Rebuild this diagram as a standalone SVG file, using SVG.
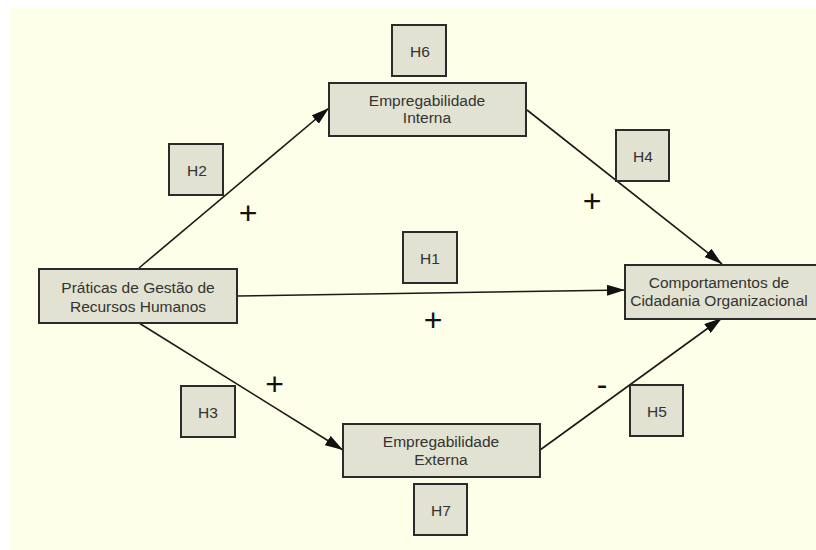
<svg xmlns="http://www.w3.org/2000/svg" width="816" height="550" viewBox="0 0 816 550">
<style>
.box{fill:#e1e2d1;stroke:#2b2b2b;stroke-width:2}
.t{font-family:"Liberation Sans",Arial,sans-serif;font-size:15.5px;fill:#333;text-anchor:middle}
.c{stroke:#1a1a1a;stroke-width:1.6;fill:none;marker-end:url(#ah)}
.s{font-family:"Liberation Sans",Arial,sans-serif;font-size:32px;fill:#111;text-anchor:middle}
</style>
<defs>
<marker id="ah" viewBox="0 0 18 11" refX="18" refY="5.5" markerWidth="18" markerHeight="11" markerUnits="userSpaceOnUse" orient="auto">
<path d="M0,0 L18,5.5 L0,11 Z" fill="#111"/>
</marker>
</defs>
<rect x="0" y="0" width="816" height="550" fill="#ffffff"/>
<rect x="9" y="7" width="807" height="543" fill="#fdffe8"/>
<g id="connectors">
<line class="c" x1="139" y1="268" x2="329" y2="108"/>
<line class="c" x1="527" y1="110" x2="722" y2="264"/>
<line class="c" x1="237" y1="296" x2="625" y2="290"/>
<line class="c" x1="139" y1="323" x2="343" y2="450"/>
<line class="c" x1="540" y1="450" x2="722" y2="318"/>
</g>
<g id="signs">
<text class="s" x="248" y="223.5">+</text>
<text class="s" x="592" y="211.5">+</text>
<text class="s" x="433" y="330.5">+</text>
<text class="s" x="274.5" y="395">+</text>
<text class="s" x="602" y="395">-</text>
</g>
<g id="praticas">
<rect class="box" x="39" y="269" width="198" height="54"/>
<text class="t" x="138" y="293">Práticas de Gestão de</text>
<text class="t" x="138" y="311.5">Recursos Humanos</text>
</g>
<g id="emp-interna">
<rect class="box" x="329" y="83" width="197" height="53"/>
<text class="t" x="427" y="106">Empregabilidade</text>
<text class="t" x="427" y="123">Interna</text>
</g>
<g id="emp-externa">
<rect class="box" x="343" y="424" width="197" height="53"/>
<text class="t" x="441" y="447">Empregabilidade</text>
<text class="t" x="441" y="465">Externa</text>
</g>
<g id="comportamentos">
<rect class="box" x="625" y="265" width="195" height="54"/>
<text class="t" x="719" y="288">Comportamentos de</text>
<text class="t" x="719" y="306">Cidadania Organizacional</text>
</g>
<g id="h6"><rect class="box" x="392" y="25" width="54" height="51"/><text class="t" x="420" y="57">H6</text></g>
<g id="h2"><rect class="box" x="169" y="144" width="54" height="51"/><text class="t" x="197" y="176">H2</text></g>
<g id="h4"><rect class="box" x="616" y="130" width="53" height="51"/><text class="t" x="643" y="162">H4</text></g>
<g id="h1"><rect class="box" x="403" y="232" width="54" height="51"/><text class="t" x="430" y="264">H1</text></g>
<g id="h3"><rect class="box" x="181" y="386" width="54" height="51"/><text class="t" x="208" y="418">H3</text></g>
<g id="h5"><rect class="box" x="630" y="385" width="53" height="51"/><text class="t" x="657" y="417">H5</text></g>
<g id="h7"><rect class="box" x="414" y="484" width="53" height="51"/><text class="t" x="441" y="516">H7</text></g>
</svg>
